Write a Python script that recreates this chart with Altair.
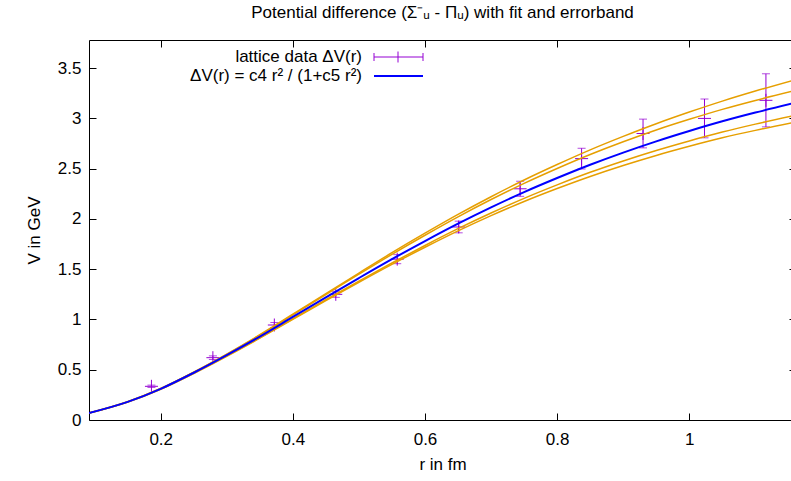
import altair as alt
import pandas as pd

# ---------------- data ----------------
r_data = [0.186, 0.279, 0.372, 0.465, 0.558, 0.651, 0.744, 0.837, 0.930, 1.023, 1.116]
v_data = [0.335, 0.62, 0.945, 1.25, 1.60, 1.92, 2.30, 2.60, 2.85, 3.00, 3.18]
v_err = [0.012, 0.018, 0.025, 0.03, 0.045, 0.058, 0.075, 0.103, 0.143, 0.193, 0.264]

r_curve = [0.0915, 0.15, 0.2, 0.25, 0.3, 0.35, 0.4, 0.45, 0.5, 0.55, 0.6,
           0.65, 0.7, 0.75, 0.8, 0.85, 0.9, 0.95, 1.0, 1.05, 1.1, 1.1615]
fit_v = [0.069, 0.18, 0.31, 0.47, 0.645, 0.83, 1.025, 1.22, 1.412, 1.60, 1.78,
         1.953, 2.115, 2.267, 2.407, 2.539, 2.66, 2.772, 2.875, 2.971, 3.058, 3.157]
band_u1 = [0.069, 0.182, 0.314, 0.477, 0.656, 0.848, 1.052, 1.258, 1.462, 1.664, 1.858,
           2.045, 2.221, 2.387, 2.541, 2.687, 2.821, 2.947, 3.063, 3.172, 3.272, 3.387]
band_u2 = [0.069, 0.181, 0.313, 0.475, 0.653, 0.843, 1.045, 1.248, 1.450, 1.648, 1.838,
           2.021, 2.193, 2.354, 2.502, 2.641, 2.768, 2.885, 2.991, 3.090, 3.179, 3.279]
band_l1 = [0.069, 0.179, 0.307, 0.465, 0.637, 0.818, 1.007, 1.196, 1.381, 1.562, 1.736,
           1.903, 2.059, 2.205, 2.339, 2.464, 2.577, 2.681, 2.776, 2.864, 2.943, 3.032]
band_l2 = [0.069, 0.178, 0.306, 0.463, 0.634, 0.814, 1.001, 1.188, 1.370, 1.548, 1.718,
           1.881, 2.033, 2.174, 2.303, 2.423, 2.532, 2.632, 2.723, 2.807, 2.881, 2.964]

x_ticks = [0.2, 0.4, 0.6, 0.8, 1.0]
y_ticks = [0, 0.5, 1, 1.5, 2, 2.5, 3, 3.5]
x_dom = [0.0915, 1.1615]
y_dom = [0, 3.78]

title_text = "Potential difference (Σ⁻ᵤ - Πᵤ) with fit and errorband"
legend_data = "lattice data ΔV(r)"
legend_fit = "ΔV(r) = c4 r² / (1+c5 r²)"

FONT = "Liberation Sans"
FS = 17
PURPLE = "#9400D3"
BLUE = "#0000FF"
ORANGE = "#E69F00"

# ---------------- tables ----------------
pts = pd.DataFrame({"r": r_data, "v": v_data, "err": v_err})
pts["lo"] = pts["v"] - pts["err"]
pts["hi"] = pts["v"] + pts["err"]

bands = []
for name, vals in [("u1", band_u1), ("u2", band_u2), ("l1", band_l1), ("l2", band_l2)]:
    for r, v in zip(r_curve, vals):
        bands.append({"r": r, "v": v, "s": name})
bands = pd.DataFrame(bands)
fit = pd.DataFrame({"r": r_curve, "v": fit_v})
one = pd.DataFrame({"a": [0]})

xs = alt.Scale(domain=x_dom, nice=False, zero=False)
ys = alt.Scale(domain=y_dom, nice=False, zero=False)

ax_x = alt.Axis(orient="bottom", values=x_ticks, format="~g", ticks=False, domain=False,
                grid=False, labelFontSize=FS, labelFont=FONT, labelColor="black",
                labelPadding=11, labelFlush=False, title="r in fm", titleFont=FONT,
                titleFontSize=FS, titleFontWeight="normal", titleColor="black",
                titlePadding=9)
ax_y = alt.Axis(orient="left", values=y_ticks, format="~g", ticks=False, domain=False,
                grid=False, labelFontSize=FS, labelFont=FONT, labelColor="black",
                labelPadding=8, title="V in GeV", titleFont=FONT, titleFontSize=FS,
                titleFontWeight="normal", titleColor="black", titlePadding=14)

X = alt.X("r:Q", scale=xs, axis=ax_x)
Y = alt.Y("v:Q", scale=ys, axis=ax_y)

bars = alt.Chart(pts).mark_rule(color=PURPLE, strokeWidth=1).encode(
    x=X, y=alt.Y("lo:Q", scale=ys, axis=ax_y), y2="hi:Q")
cap_lo = alt.Chart(pts).mark_tick(color=PURPLE, orient="horizontal", size=8, thickness=1).encode(
    x=X, y=alt.Y("lo:Q", scale=ys, axis=ax_y))
cap_hi = alt.Chart(pts).mark_tick(color=PURPLE, orient="horizontal", size=8, thickness=1).encode(
    x=X, y=alt.Y("hi:Q", scale=ys, axis=ax_y))
cross = alt.Chart(pts).mark_point(shape="M-1,0L1,0M0,-1L0,1", filled=False, color=PURPLE,
                                  strokeWidth=1, size=169, opacity=1).encode(x=X, y=Y)

band_lines = alt.Chart(bands).mark_line(color=ORANGE, strokeWidth=1.5, interpolate="monotone",
                                        clip=True).encode(x=X, y=Y, detail="s:N")
fit_line = alt.Chart(fit).mark_line(color=BLUE, strokeWidth=2, interpolate="monotone",
                                    clip=True).encode(x=X, y=Y)

# legend (gnuplot style: label left, sample right)
lg_t1 = alt.Chart(one).mark_text(align="right", baseline="middle", font=FONT, fontSize=FS,
                                 color="black").encode(x=alt.value(273), y=alt.value(17),
                                                       text=alt.value(legend_data))
lg_t2 = alt.Chart(one).mark_text(align="right", baseline="middle", font=FONT, fontSize=FS,
                                 color="black").encode(x=alt.value(273), y=alt.value(36),
                                                       text=alt.value(legend_fit))
lg_bar = alt.Chart(one).mark_rule(color=PURPLE, strokeWidth=1).encode(
    x=alt.value(285), x2=alt.value(334), y=alt.value(17))
lg_c1 = alt.Chart(one).mark_rule(color=PURPLE, strokeWidth=1).encode(
    x=alt.value(285), y=alt.value(13), y2=alt.value(21))
lg_c2 = alt.Chart(one).mark_rule(color=PURPLE, strokeWidth=1).encode(
    x=alt.value(334), y=alt.value(13), y2=alt.value(21))
lg_c3 = alt.Chart(one).mark_rule(color=PURPLE, strokeWidth=1).encode(
    x=alt.value(309), y=alt.value(11.5), y2=alt.value(22.5))
lg_fit = alt.Chart(one).mark_rule(color=BLUE, strokeWidth=2).encode(
    x=alt.value(285), x2=alt.value(334), y=alt.value(36))

main = alt.layer(bars, cap_lo, cap_hi, cross, band_lines, fit_line,
                 lg_t1, lg_t2, lg_bar, lg_c1, lg_c2, lg_c3, lg_fit)

# inward ticks (gnuplot style) drawn by extra axes
def tick_layer(xorient, yorient):
    return alt.Chart(pts).mark_point(opacity=0).encode(
        x=alt.X("r:Q", scale=xs, axis=alt.Axis(orient=xorient, values=x_ticks, labels=False,
                                                domain=False, grid=False, ticks=True, tickSize=7,
                                                tickColor="black", tickWidth=1, offset=-7,
                                                title=None)),
        y=alt.Y("v:Q", scale=ys, axis=alt.Axis(orient=yorient, values=y_ticks, labels=False,
                                                domain=False, grid=False, ticks=True, tickSize=7,
                                                tickColor="black", tickWidth=1, offset=-7,
                                                title=None)),
    )

chart = alt.layer(main, tick_layer("bottom", "left"), tick_layer("top", "right")).resolve_scale(
    x="independent", y="independent"
).properties(
    width=707, height=380,
    autosize=alt.AutoSizeParams(type="none"),
    padding={"left": 89, "top": 40, "right": -5, "bottom": 61},
    title=alt.TitleParams(title_text, font=FONT, fontSize=FS, fontWeight="normal",
                          color="black", anchor="middle", baseline="bottom", offset=1),
).configure_view(stroke="black", strokeWidth=1)

chart.save("out.html", embed_options={"renderer": "svg", "actions": False})
